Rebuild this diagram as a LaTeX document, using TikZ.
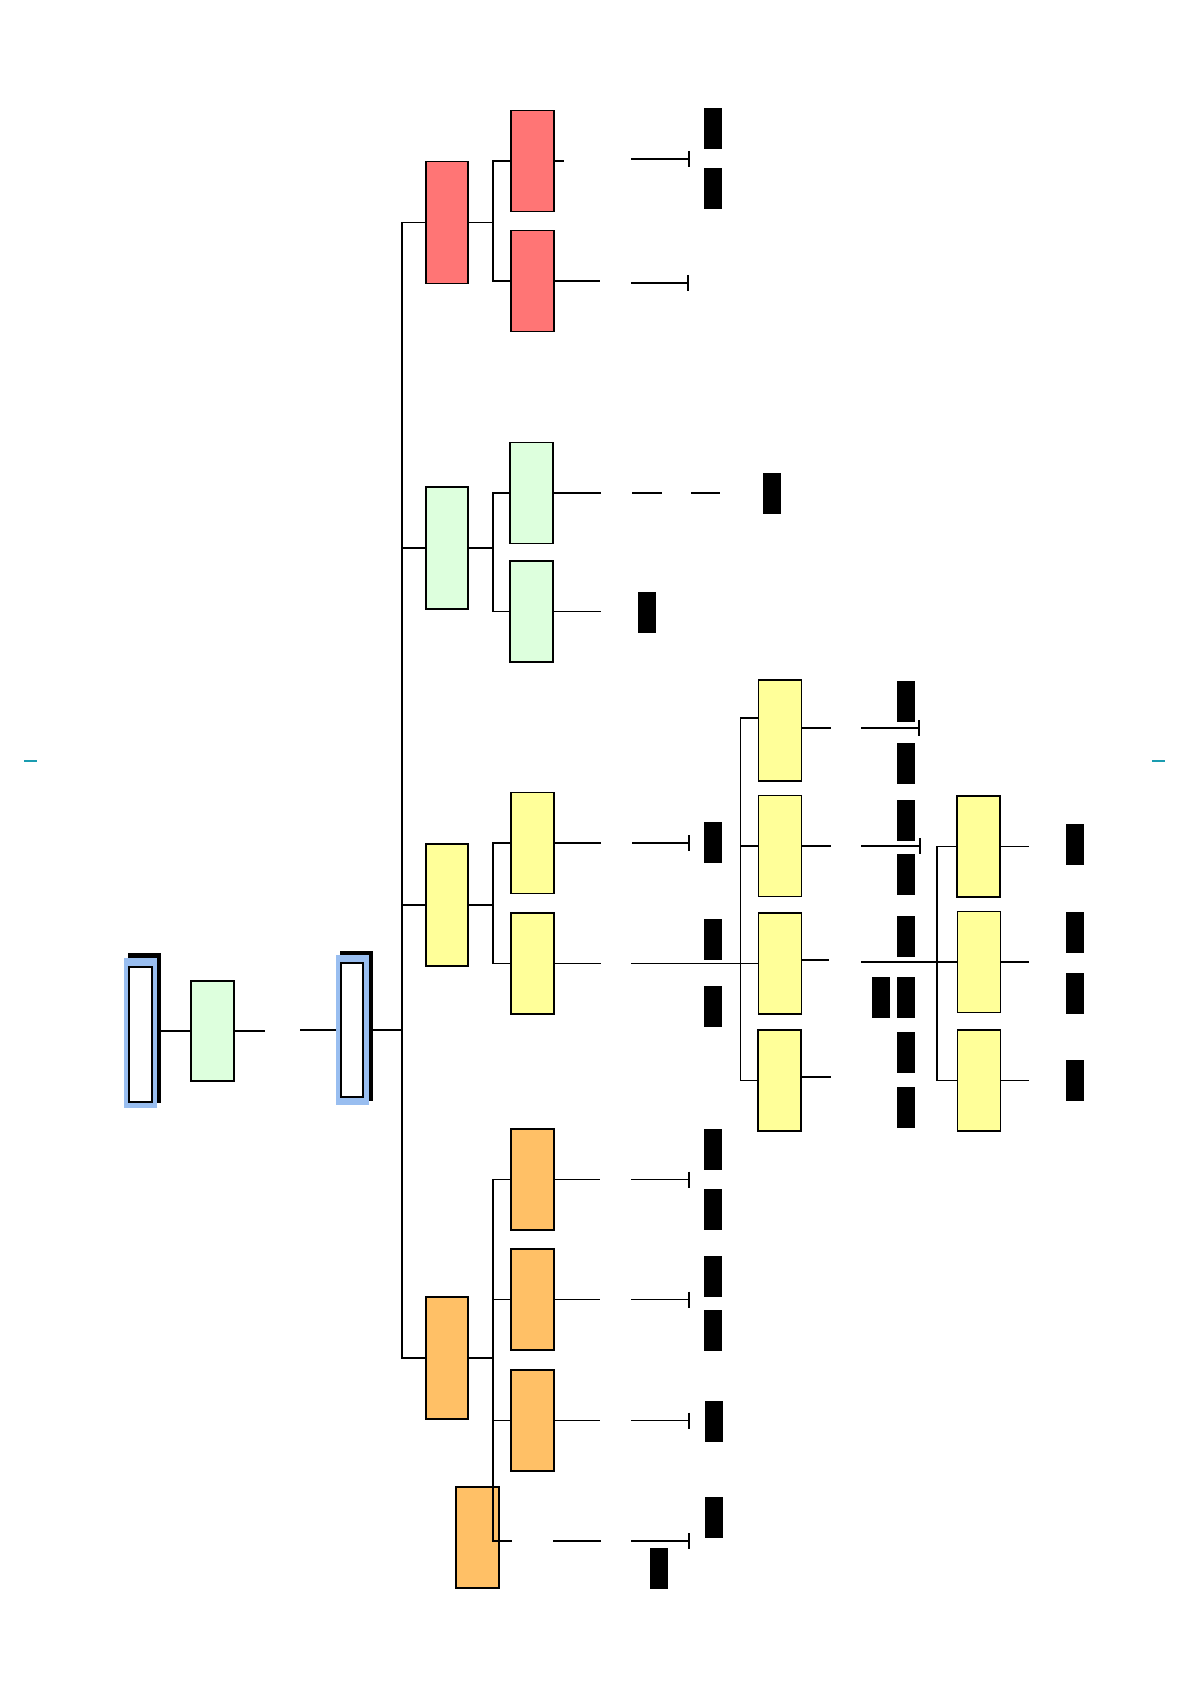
\documentclass[tikz,border=0pt]{standalone}
\usetikzlibrary{arrows.meta,calc}
\definecolor{cred}{RGB}{255,117,117}
\definecolor{cgreen}{RGB}{221,255,221}
\definecolor{cyel}{RGB}{255,255,153}
\definecolor{corg}{RGB}{255,192,102}
\definecolor{cblue}{RGB}{153,190,240}
\definecolor{cteal}{RGB}{26,156,176}
\tikzset{
  bx/.style={draw=black, line width=0.6pt, inner sep=0pt, outer sep=0pt, minimum width=21.5pt, minimum height=50.5pt},
  bxl/.style={bx, minimum width=21pt, minimum height=61pt},
  blk/.style={fill=black, draw=none, inner sep=0pt, outer sep=0pt, minimum width=9pt, minimum height=20.5pt},
  plain/.style={inner sep=0pt, outer sep=0pt, draw=none},
  ln/.style={line width=0.6pt},
  tkl/.style={line width=0.6pt, -{Bar[width=8pt]}},
}
\begin{document}
\begin{tikzpicture}[x=0.5pt,y=-0.5pt]
\useasboundingbox (0,0) rectangle (1190,1684);

% edge marks
\draw[cteal, line width=1pt] (24,761) -- (37,761);
\draw[cteal, line width=1pt] (1152,761) -- (1165,761);

% left framed box
\node[plain, fill=black, minimum width=16.5pt, minimum height=75pt] (lfs) at (144.5,1028) {};
\node[plain, fill=cblue, minimum width=16.5pt, minimum height=75pt] (lfb) at (140.5,1033) {};
\node[bx, fill=white, minimum width=11.5pt, minimum height=67.5pt] (lfi) at (140.5,1034.5) {};
% green start box
\node[bx, fill=cgreen, minimum height=50pt] (g0) at (212.5,1031) {};
% right framed box
\node[plain, fill=black, minimum width=16.5pt, minimum height=75pt] (rfs) at (356.5,1026) {};
\node[plain, fill=cblue, minimum width=16.5pt, minimum height=75pt] (rfb) at (352.5,1030) {};
\node[bx, fill=white, minimum width=11pt, minimum height=67pt] (rfi) at (352,1030) {};

% level 1
\node[bxl, fill=cred] (r1) at (447,222.5) {};
\node[bxl, fill=cgreen] (g1) at (447,548) {};
\node[bxl, fill=cyel] (y1) at (447,905) {};
\node[bxl, fill=corg] (o1) at (447,1358) {};

% red level 2
\node[bx, fill=cred] (r2a) at (532.5,161) {};
\node[bx, fill=cred] (r2b) at (532.5,281) {};
% green level 2
\node[bx, fill=cgreen] (g2a) at (531.5,493) {};
\node[bx, fill=cgreen] (g2b) at (531.5,611.5) {};
% yellow level 2
\node[bx, fill=cyel] (y2a) at (532.5,843) {};
\node[bx, fill=cyel] (y2b) at (532.5,963.5) {};
% yellow level 3
\node[bx, fill=cyel] (y3a) at (780,730.5) {};
\node[bx, fill=cyel] (y3b) at (780,846) {};
\node[bx, fill=cyel] (y3c) at (780,963.5) {};
\node[bx, fill=cyel] (y3d) at (779.5,1080.5) {};
% yellow level 4
\node[bx, fill=cyel] (y4a) at (978.5,846.5) {};
\node[bx, fill=cyel] (y4b) at (979,962) {};
\node[bx, fill=cyel] (y4c) at (979,1080.5) {};
% orange level 2
\node[bx, fill=corg] (o2a) at (532.5,1179.5) {};
\node[bx, fill=corg] (o2b) at (532.5,1299.5) {};
\node[bx, fill=corg] (o2c) at (532.5,1420.5) {};
\node[bx, fill=corg] (o2d) at (477.5,1537.5) {};

% black blocks
\node[blk] (k1) at (713,128.5) {};
\node[blk] (k2) at (713,188.5) {};
\node[blk] (k3) at (772,493) {};
\node[blk] (k4) at (646.5,612) {};
\node[blk] (k5) at (713,842.5) {};
\node[blk] (k6) at (713,939.5) {};
\node[blk] (k7) at (713,1006.5) {};
\node[blk] (c1) at (905.5,701.5) {};
\node[blk] (c2) at (905.5,763.5) {};
\node[blk] (c3) at (905.5,820.5) {};
\node[blk] (c4) at (905.5,874.5) {};
\node[blk] (c5) at (905.5,936.5) {};
\node[blk] (c6) at (905.5,997.5) {};
\node[blk] (c7) at (905.5,1052.5) {};
\node[blk] (c8) at (905.5,1107.5) {};
\node[blk] (c9) at (881,997.5) {};
\node[blk] (d1) at (1075,844) {};
\node[blk] (d2) at (1075,932) {};
\node[blk] (d3) at (1075,993.5) {};
\node[blk] (d4) at (1075,1080.5) {};
\node[blk] (e1) at (713,1149.5) {};
\node[blk] (e2) at (713,1209.5) {};
\node[blk] (e3) at (713,1276) {};
\node[blk] (e4) at (713,1330.5) {};
\node[blk] (e5) at (714,1421) {};
\node[blk] (e6) at (714,1517.5) {};
\node[blk] (e7) at (659,1568.5) {};

% start chain
\draw[ln] (g0.west -| lfs.east) -- (g0.west);
\draw[ln] (g0.east) -- ++(31,0);
\draw[ln] (rfb.west) -- ++(-36,0);
\coordinate (tk) at (402,1030);
\draw[ln] (rfs.east |- tk) -- (tk);
% trunk
\draw[ln] (r1.west) -| (tk) |- (o1.west);
\draw[ln] (g1.west) -- (g1.west -| tk);
\draw[ln] (y1.west) -- (y1.west -| tk);

% red bus
\coordinate (rb) at ($(r1.east)+(25,0)$);
\draw[ln] (r1.east) -- (rb);
\draw[ln] (r2a.west) -| (rb) |- (r2b.west);
% green bus
\coordinate (gb) at ($(g1.east)+(25,0)$);
\draw[ln] (g1.east) -- (gb);
\draw[ln] (g2a.west) -| (gb) |- (g2b.west);
% yellow bus
\coordinate (yb) at ($(y1.east)+(25,0)$);
\draw[ln] (y1.east) -- (yb);
\draw[ln] (y2a.west) -| (yb) |- (y2b.west);
% orange bus
\coordinate (ob) at ($(o1.east)+(25,0)$);
\coordinate (oe) at (512,1541);
\draw[ln] (o1.east) -- (ob);
\draw[ln] (o2a.west) -| (ob) |- (oe);
\draw[ln] (o2b.west) -- (o2b.west -| ob);
\draw[ln] (o2c.west) -- (o2c.west -| ob);

% red outgoing
\draw[ln] (r2a.east) -- ++(10,0);
\draw[tkl] (631,159) -- (689.5,159);
\draw[ln] (r2b.east) -- ++(46,0);
\draw[tkl] (631,283) -- (688.5,283);
% green outgoing
\draw[ln] (g2a.east) -- ++(48,0);
\draw[ln] (632,493) -- (662,493);
\draw[ln] (691,493) -- (720,493);
\draw[ln] (g2b.east) -- ++(48,0);
% yellow outgoing level 2
\draw[ln] (y2a.east) -- ++(47,0);
\draw[tkl] (632,843) -- (689.5,843);
\draw[ln] (y2b.east) -- ++(47,0);
\draw[ln] (631,963.5) -- (y3c.west);
% yellow level 3 bus
\coordinate (y3t) at ($(y3a.west)+(-18,-12.5)$);
\draw[ln] (y3a.west |- y3t) -- (y3t) |- (y3d.west);
\draw[ln] (y3b.west) -- (y3b.west -| y3t);
% yellow level 3 outgoing
\draw[ln] (y3a.east |- 0,728) -- ++(29,0);
\draw[tkl] (861,728) -- (919.5,728);
\draw[ln] (y3b.east) -- ++(29,0);
\draw[tkl] (861,846) -- (920.5,846);
\draw[ln] (y3c.east |- 0,960) -- ++(27,0);
\draw[ln] (861,962) -- (y4b.west);
\draw[ln] (y3d.east |- 0,1077) -- ++(30,0);
% yellow level 4 bus
\coordinate (y4t) at ($(y4a.west)+(-20,0)$);
\draw[ln] (y4a.west) -- (y4t) |- (y4c.west);
\draw[ln] (y4a.east) -- ++(29,0);
\draw[ln] (y4b.east) -- ++(28,0);
\draw[ln] (y4c.east) -- ++(28,0);

% orange outgoing
\draw[ln] (o2a.east) -- ++(46,0);
\draw[tkl] (631,1179.5) -- (689.5,1179.5);
\draw[ln] (o2b.east) -- ++(46,0);
\draw[tkl] (631,1299.5) -- (689.5,1299.5);
\draw[ln] (o2c.east) -- ++(46,0);
\draw[tkl] (631,1420.5) -- (689.5,1420.5);
\draw[ln] (553,1541) -- (601,1541);
\draw[tkl] (631,1541) -- (689.5,1541);
\end{tikzpicture}
\end{document}
